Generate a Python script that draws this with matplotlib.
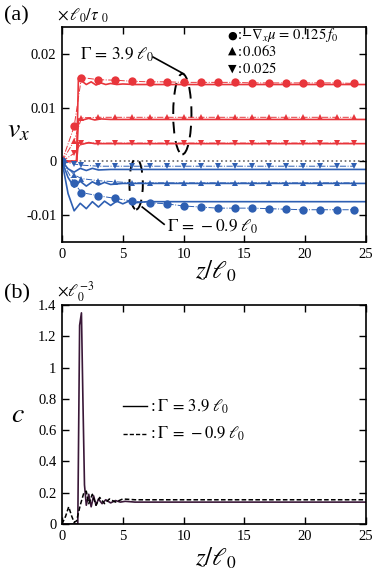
import numpy as np
import matplotlib.pyplot as plt
from matplotlib.patches import Ellipse

plt.rcParams['font.family'] = ['Liberation Serif', 'DejaVu Serif']
plt.rcParams['mathtext.fontset'] = 'stix'

RED = '#e8353b'
BLUE = '#2e5fb2'
DARK = '#3a1838'

# ---- panel (a): v_x, solid = continuum, markers = simulation ----
# Gamma = 3.9 l0 (red)
r1_z = [0, 1.2, 1.35, 1.6, 2.0, 2.4, 2.8, 3.2, 3.6, 4.0, 4.5, 5.0, 6.0, 25]
r1_v = [0, 0, 0.0155, 0.0150, 0.0143, 0.0148, 0.0142, 0.0146, 0.0143, 0.0145, 0.0143, 0.0144, 0.0143, 0.0143]
r2_z = [0, 1.2, 1.35, 1.7, 2.2, 2.7, 3.2, 4.0, 25]
r2_v = [0, 0, 0.0079, 0.0077, 0.0080, 0.0077, 0.0079, 0.0078, 0.0078]
r3_z = [0, 1.2, 1.35, 1.7, 2.2, 2.7, 3.5, 25]
r3_v = [0, 0, 0.0035, 0.0032, 0.0035, 0.0033, 0.0033, 0.0033]

mk_z = [0, 1.0, 1.6, 3.0, 4.4, 5.8, 7.2, 8.6, 10.0, 11.4, 12.8, 14.2, 15.6, 17.0, 18.4, 19.8, 21.2, 22.6, 24.0]
r1_m = [0, 0.0065, 0.0156, 0.0152, 0.0151, 0.0149, 0.0148, 0.0148, 0.0147, 0.0147, 0.0147, 0.0147, 0.0146, 0.0146, 0.0146, 0.0146, 0.0146, 0.0146, 0.0145]
r2_m = [0, 0.0038, 0.0081, 0.0082, 0.0082, 0.0082, 0.0082, 0.0082, 0.0082, 0.0082, 0.0082, 0.0082, 0.0082, 0.0082, 0.0082, 0.0082, 0.0082, 0.0082, 0.0082]
r3_m = [0, 0.0015, 0.0034, 0.0034, 0.0034, 0.0034, 0.0034, 0.0034, 0.0034, 0.0034, 0.0034, 0.0034, 0.0034, 0.0034, 0.0034, 0.0034, 0.0034, 0.0034, 0.0034]

# Gamma = -0.9 l0 (blue)
b1_z = [0, 0.5, 1.0, 1.5, 2.0, 2.5, 3.0, 3.5, 4.0, 4.5, 5.0, 5.5, 6.0, 7.0, 25]
b1_v = [0, -0.0060, -0.0092, -0.0078, -0.0088, -0.0075, -0.0085, -0.0074, -0.0082, -0.0074, -0.0079, -0.0074, -0.0077, -0.0075, -0.0075]
b2_z = [0, 0.5, 1.0, 1.5, 2.0, 2.5, 3.0, 3.5, 4.0, 5.0, 25]
b2_v = [0, -0.0030, -0.0048, -0.0037, -0.0046, -0.0038, -0.0044, -0.0039, -0.0043, -0.0041, -0.0041]
b3_z = [0, 0.5, 1.0, 1.5, 2.0, 2.5, 3.0, 4.0, 25]
b3_v = [0, -0.0014, -0.0020, -0.0013, -0.0017, -0.0013, -0.0016, -0.0015, -0.0015]

b1_m = [0, -0.0040, -0.0058, -0.0064, -0.0069, -0.0074, -0.0077, -0.0079, -0.0083, -0.0085, -0.0087, -0.0087, -0.0087, -0.0088, -0.0089, -0.0090, -0.0090, -0.0090, -0.0090]
b2_m = [0, -0.0025, -0.0032, -0.0036, -0.0038, -0.0040, -0.0040, -0.0040, -0.0040, -0.0040, -0.0040, -0.0040, -0.0040, -0.0040, -0.0040, -0.0040, -0.0040, -0.0040, -0.0040]
b3_m = [0, -0.0005, -0.0007, -0.0009, -0.0009, -0.0009, -0.0009, -0.0009, -0.0009, -0.0009, -0.0009, -0.0009, -0.0009, -0.0009, -0.0009, -0.0009, -0.0009, -0.0009, -0.0009]

# ---- panel (b): density c ----
c1_z = [0, 1.3, 1.45, 1.6, 1.72, 1.85, 2.0, 2.2, 2.4, 2.6, 2.8, 3.0, 3.3, 3.6, 4.0, 4.4, 4.8, 5.2, 6.0, 25]
c1_v = [0, 0, 1.27, 1.35, 0.8, 0.25, 0.12, 0.19, 0.11, 0.18, 0.12, 0.16, 0.13, 0.155, 0.135, 0.15, 0.14, 0.145, 0.14, 0.14]
c2_z = [0, 0.3, 0.55, 0.8, 1.0, 1.2, 1.5, 1.8, 2.0, 2.2, 2.5, 2.8, 3.1, 3.5, 3.9, 4.4, 5.0, 6.0, 25]
c2_v = [0, 0.05, 0.11, 0.05, 0.01, 0.02, 0.12, 0.20, 0.21, 0.13, 0.19, 0.12, 0.17, 0.13, 0.16, 0.14, 0.16, 0.155, 0.155]

fig = plt.figure(figsize=(3.78, 5.71), dpi=100)
ax1 = fig.add_axes([0.164, 0.5762, 0.804, 0.3765])
ax2 = fig.add_axes([0.164, 0.0823, 0.804, 0.3835])

for z, v, m, mk, col in [(r1_z, r1_v, r1_m, 'o', RED), (r2_z, r2_v, r2_m, '^', RED), (r3_z, r3_v, r3_m, 'v', RED),
                         (b1_z, b1_v, b1_m, 'o', BLUE), (b2_z, b2_v, b2_m, '^', BLUE), (b3_z, b3_v, b3_m, 'v', BLUE)]:
    ax1.plot(mk_z, m, ls='-.', lw=0.7, color=col, marker=mk, ms=6 if mk == 'o' else 5, mew=0)
    ax1.plot(z, v, '-', lw=1.2, color=col)

ax1.axhline(0, color='0.4', ls=':', lw=1.2, zorder=0)
ax1.set_xlim(0, 25)
ax1.set_ylim(-0.015, 0.025)
ax1.set_yticks([-0.01, 0, 0.01, 0.02])
ax1.set_yticklabels(['-0.01', '0', '0.01', '0.02'])

# dashed ellipses + leaders
ax1.add_patch(Ellipse((9.9, 0.0088), 1.5, 0.0150, fill=False, ls=(0, (6, 4)), lw=1.4, color='k'))
ax1.add_patch(Ellipse((6.1, -0.0042), 1.1, 0.0095, fill=False, ls=(0, (6, 4)), lw=1.4, color='k'))
ax1.plot([7.5, 10.0], [0.0194, 0.0163], color='k', lw=1.2)
ax1.plot([6.6, 8.4], [-0.0085, -0.0117], color='k', lw=1.2)
ax1.text(1.5, 0.0198, r'$\Gamma\,=\,3.9\;\ell_0$', fontsize=12.5, va='center')
ax1.text(8.6, -0.0121, r'$\Gamma\,=\,-0.9\;\ell_0$', fontsize=12.5, va='center')

# marker legend
sym = ['\u25cf', '\u25b2', '\u25bc']
lab = [r':$-\nabla_x\mu\,=\,0.125\,f_0$', r':$\,0.063$', r':$\,0.025$']
ys = [0.962, 0.888, 0.808]
for s, l, y in zip(sym, lab, ys):
    ax1.text(0.545, y, s, transform=ax1.transAxes, fontsize=8, family=['DejaVu Sans'], va='center', ha='left')
    ax1.text(0.575, y, l, transform=ax1.transAxes, fontsize=10.5, va='center', ha='left')

ax2.plot(c1_z, c1_v, '-', color=DARK, lw=1.2)
ax2.plot(c2_z, c2_v, '--', color='k', lw=1.1, dashes=(3, 1.5))
ax2.set_xlim(0, 25)
ax2.set_ylim(0, 1.4)
ax2.set_yticks([0, 0.2, 0.4, 0.6, 0.8, 1.0, 1.2, 1.4])
ax2.set_yticklabels(['0', '0.2', '0.4', '0.6', '0.8', '1', '1.2', '1.4'])
ax2.plot([0.2, 0.28], [0.537, 0.537], '-', color='k', lw=1.0, transform=ax2.transAxes)
ax2.plot([0.2, 0.28], [0.41, 0.41], '--', color='k', lw=1.0, dashes=(3, 1.5), transform=ax2.transAxes)
ax2.text(0.29, 0.537, r':$\;\Gamma\,=\,3.9\;\ell_0$', transform=ax2.transAxes, fontsize=12, va='center')
ax2.text(0.29, 0.41, r':$\;\Gamma\,=\,-0.9\;\ell_0$', transform=ax2.transAxes, fontsize=12, va='center')

for ax in (ax1, ax2):
    ax.set_xticks([0, 5, 10, 15, 20, 25])
    ax.tick_params(direction='in', top=True, right=True, length=5, width=1, labelsize=10.5, pad=4)
    for sp in ax.spines.values():
        sp.set_linewidth(1.2)

fig.text(0.57, 0.524, r'$z/\ell_0$', fontsize=18, ha='center', va='center')
fig.text(0.57, 0.023, r'$z/\ell_0$', fontsize=18, ha='center', va='center')
fig.text(0.048, 0.77, r'$v_x$', fontsize=20, ha='center', va='center')
fig.text(0.048, 0.273, r'$c$', fontsize=20, ha='center', va='center')
fig.text(0.01, 0.973, '(a)', fontsize=16, va='center')
fig.text(0.15, 0.973, r'$\times\,\ell_0/\tau\ _0$', fontsize=12, va='center')
fig.text(0.01, 0.486, '(b)', fontsize=16, va='center')
fig.text(0.15, 0.49, r'$\times\ell_0^{-3}$', fontsize=12, va='center')

fig.savefig('out.png', dpi=100)
